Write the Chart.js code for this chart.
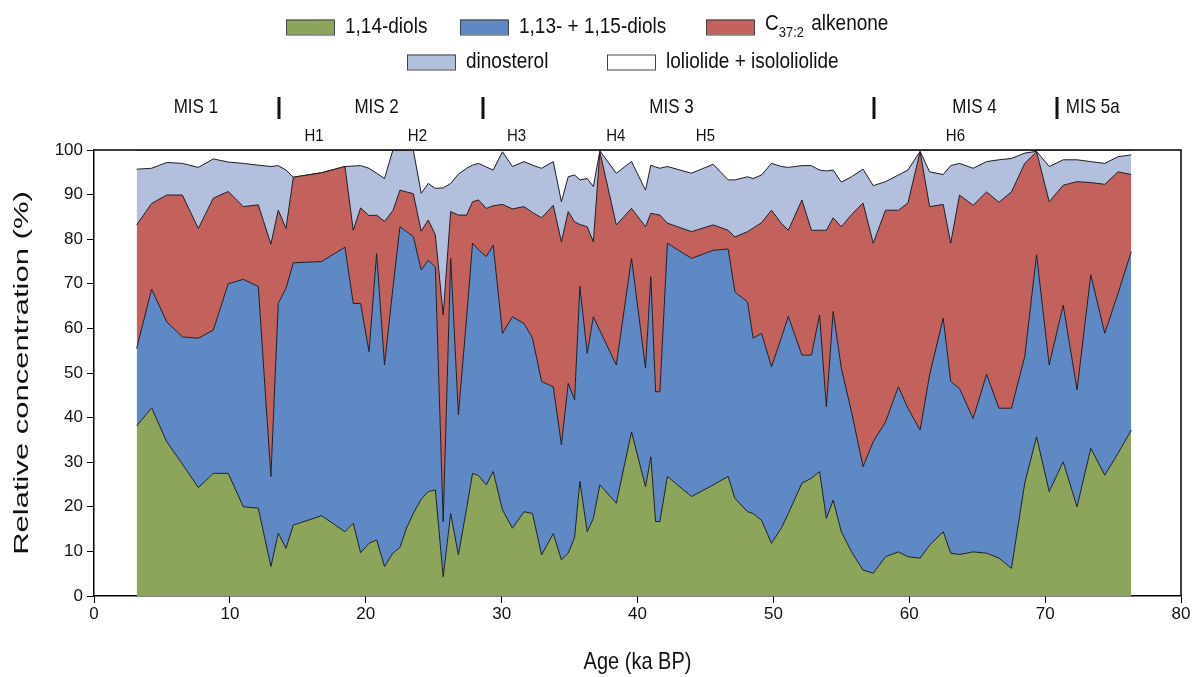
<!DOCTYPE html>
<html><head><meta charset="utf-8">
<script src="https://cdn.jsdelivr.net/npm/chart.js@4.4.1/dist/chart.umd.min.js"></script>
<style>html,body{margin:0;padding:0;background:#fff;}canvas{display:block;}</style>
</head><body>
<canvas id="c" width="1196" height="677"></canvas>
<script>
// Age (ka BP)
const ages = [3.14,4.24,5.35,6.5,7.68,8.78,9.88,10.99,12.09,13.02,13.56,14.13,14.67,16.75,18.47,19.08,19.62,20.24,20.8,21.38,22.0,22.52,23.0,23.5,24.08,24.6,25.12,25.7,26.25,26.82,27.42,27.86,28.3,28.87,29.38,30.06,30.8,31.65,32.27,32.94,33.8,34.4,34.9,35.37,35.76,36.3,36.75,37.23,38.44,39.56,40.59,40.98,41.33,41.65,42.2,43.97,45.57,46.67,47.17,48.1,48.51,49.13,49.86,50.6,51.1,52.1,52.8,53.4,53.9,54.4,55.0,55.75,56.6,57.35,58.25,59.2,59.9,60.8,61.5,62.5,63.05,63.7,64.7,65.69,66.6,67.52,68.5,69.37,70.3,71.33,72.35,73.36,74.39,75.37,76.34];
// Relative concentration (%) of each compound group
const diols114 = [38.1,42.2,34.6,29.6,24.3,27.5,27.5,20.0,19.7,6.6,14.1,10.7,15.9,18.0,14.4,16.3,9.7,11.8,12.6,6.6,9.6,10.9,15.2,18.5,21.7,23.4,23.8,4.3,18.5,9.2,19.6,27.5,27.0,24.9,27.9,19.3,15.2,18.9,18.5,9.2,14.0,8.1,9.6,13.1,25.7,14.4,17.4,24.9,20.8,36.8,24.5,31.2,16.7,16.7,26.8,22.3,24.9,26.8,21.9,18.9,18.5,17.0,11.8,15.3,18.5,25.3,26.4,27.9,17.4,21.5,14.4,9.9,5.8,5.1,8.8,9.9,8.8,8.5,11.4,14.4,9.6,9.3,9.9,9.6,8.5,6.2,25.3,35.7,23.4,30.1,20.0,33.1,27.1,32.0,37.2];
const diols113_115 = [17.4,26.6,26.9,28.5,33.5,32.1,42.5,51.0,49.7,20.2,51.5,58.3,58.8,57.0,63.8,49.3,55.9,43.0,64.2,45.2,59.5,71.9,66.5,62.1,51.4,51.9,50.0,12.4,57.2,31.4,42.7,51.6,50.6,51.2,50.8,39.6,47.4,42.2,39.3,38.9,32.9,25.8,38.1,30.9,43.7,40.0,45.2,34.6,31.0,38.9,26.6,40.4,29.1,29.1,52.3,53.4,52.6,51.0,46.3,47.0,39.3,41.9,39.6,42.7,44.2,28.7,27.6,35.1,25.0,42.3,36.7,31.4,23.2,29.5,30.2,37.0,33.3,28.7,38.2,47.9,38.5,37.2,29.9,40.1,33.6,35.9,28.4,40.8,28.4,35.1,26.2,38.9,31.8,35.9,40.0];
const alkenone = [27.7,19.2,28.4,31.8,24.6,29.6,20.7,16.3,18.3,52.1,20.9,13.4,19.2,19.9,18.1,16.4,21.4,30.5,8.6,32.2,17.3,8.2,8.9,9.6,8.7,9.0,7.2,46.3,10.5,44.8,23.1,9.3,11.2,10.8,8.8,28.9,24.2,26.2,28.2,36.7,40.7,45.5,38.5,39.9,13.9,28.4,16.8,40.1,31.4,11.2,31.7,14.2,39.8,39.6,4.5,6.0,5.7,4.2,12.3,15.8,24.7,24.8,35.1,25.5,19.3,34.8,28.0,19.0,39.6,21.0,31.7,44.2,59.1,44.5,47.5,39.6,46.0,62.4,37.7,25.5,31.0,43.4,47.8,40.9,46.2,48.5,43.3,23.1,36.6,26.9,46.7,20.7,33.4,27.2,17.3];
const dinosterol = [12.5,7.9,7.3,7.1,13.7,8.8,6.6,9.7,8.9,17.4,10.0,13.1,0,0,0,14.4,9.5,10.6,9.4,9.6,13.6,9.0,9.4,9.8,8.5,8.2,10.4,28.5,6.3,9.2,10.5,8.2,8.2,9.3,8.0,11.8,9.5,10.1,10.6,11.1,9.8,9.0,7.8,10.5,10.0,10.8,12.4,0.2,11.6,10.5,8.2,10.8,10.6,10.5,12.7,13.1,13.6,11.3,12.8,12.3,11.1,10.7,10.5,12.8,14.1,7.7,14.5,13.5,13.3,10.7,10.0,8.5,7.6,12.9,6.4,7.9,7.4,0.1,7.8,6.7,17.4,7.1,8.3,6.8,9.5,7.5,2.3,0.1,7.9,5.7,4.9,4.7,4.7,3.4,4.4];
const loliolide = [4.3,4.1,2.8,3.0,3.9,2.0,2.7,3.0,3.4,3.7,3.5,4.5,6.1,5.1,3.7,3.6,3.5,4.1,5.2,6.4,0,0,0,0,9.7,7.5,8.6,8.5,7.5,5.4,4.1,3.4,3.0,3.8,4.5,0.4,3.7,2.6,3.4,4.1,2.6,11.6,6.0,5.6,6.7,6.4,8.2,0.2,5.2,2.6,9.0,3.4,3.8,4.1,3.7,5.2,3.2,6.7,6.7,6.0,6.4,5.6,3.0,3.7,3.9,3.5,3.5,4.5,4.7,4.5,7.2,6.0,4.3,8.0,7.1,5.6,4.5,0.3,4.9,5.5,3.5,3.0,4.1,2.6,2.2,1.9,0.7,0.3,3.7,2.2,2.2,2.6,3.0,1.5,1.1];

const seriesLabels = ['1,14-diols','1,13- + 1,15-diols','C37:2 alkenone','dinosterol','loliolide + isololiolide'];
const seriesColors = ['#8ca55b','#5f89c4','#c3615c','#b2c0dd','#ffffff'];
const xTicks = [0,10,20,30,40,50,60,70,80];
const yTicks = [0,10,20,30,40,50,60,70,80,90,100];
const xTitle = 'Age (ka BP)';
const yTitle = 'Relative concentration (%)';

// Stage / event annotations (ka BP)
const misBounds = [13.6,28.6,57.4,70.9];
const misLabels = ['MIS 1','MIS 2','MIS 3','MIS 4','MIS 5a'];
const misCenters = [7.5,20.8,42.5,64.8,73.5];
const hLabels = ['H1','H2','H3','H4','H5','H6'];
const hCenters = [16.2,23.8,31.1,38.4,45.0,63.4];

const FONT = "'Liberation Sans', Arial, sans-serif";
const series = [diols114, diols113_115, alkenone, dinosterol, loliolide];

function stretchedText(ctx, text, x, y, rot, sx, sy) {
  ctx.save();
  ctx.translate(x, y);
  ctx.rotate(rot);
  ctx.scale(sx, sy);
  ctx.fillText(text, 0, 0);
  ctx.restore();
}

const decor = {
  id: 'decor',
  afterDraw(chart) {
    const {ctx, chartArea: a, scales: {x}} = chart;
    ctx.save();
    // frame top/right
    ctx.strokeStyle = '#000'; ctx.lineWidth = 1.5;
    ctx.beginPath();
    ctx.moveTo(a.left, a.top); ctx.lineTo(a.right, a.top); ctx.lineTo(a.right, a.bottom);
    ctx.stroke();
    ctx.fillStyle = '#111'; ctx.textBaseline = 'middle'; ctx.textAlign = 'center';
    // axis titles
    ctx.font = '20px ' + FONT;
    stretchedText(ctx, yTitle, 22, (a.top + a.bottom) / 2, -Math.PI / 2, 1.55, 1);
    stretchedText(ctx, xTitle, (a.left + a.right) / 2, 662, 0, 1, 1.2);
    // MIS labels
    ctx.font = '17px ' + FONT;
    misLabels.forEach((t, i) => stretchedText(ctx, t, x.getPixelForValue(misCenters[i]), 108, 0, 1, 1.15));
    ctx.lineWidth = 3; ctx.strokeStyle = '#111';
    misBounds.forEach(v => {
      const px = Math.round(x.getPixelForValue(v));
      ctx.beginPath(); ctx.moveTo(px, 97); ctx.lineTo(px, 119); ctx.stroke();
    });
    ctx.font = '15px ' + FONT;
    hLabels.forEach((t, i) => stretchedText(ctx, t, x.getPixelForValue(hCenters[i]), 136, 0, 1, 1.15));
    // legend
    const boxW = 48, boxH = 15;
    const items = [
      {i:0, x:286, y:27}, {i:1, x:460, y:27}, {i:2, x:706, y:27},
      {i:3, x:407, y:62}, {i:4, x:607, y:62}
    ];
    ctx.textAlign = 'left';
    items.forEach(it => {
      ctx.fillStyle = seriesColors[it.i];
      ctx.fillRect(it.x, it.y - boxH/2, boxW, boxH);
      ctx.lineWidth = 1; ctx.strokeStyle = '#444';
      ctx.strokeRect(it.x + 0.5, it.y - boxH/2 + 0.5, boxW, boxH);
      ctx.fillStyle = '#111';
      const tx = it.x + boxW + 11;
      const label = seriesLabels[it.i];
      if (label.startsWith('C37:2')) {
        ctx.font = '19px ' + FONT;
        stretchedText(ctx, 'C', tx, it.y - 3, 0, 1, 1.15);
        let w = ctx.measureText('C').width;
        ctx.font = '13px ' + FONT;
        stretchedText(ctx, '37:2', tx + w, it.y + 6, 0, 1, 1.15);
        w += ctx.measureText('37:2').width + 2;
        ctx.font = '19px ' + FONT;
        stretchedText(ctx, label.slice(5), tx + w, it.y - 3, 0, 1, 1.15);
      } else {
        ctx.font = '19px ' + FONT;
        stretchedText(ctx, label, tx, it.y, 0, 1, 1.15);
      }
    });
    ctx.restore();
  }
};

new Chart(document.getElementById('c'), {
  type: 'line',
  data: {
    datasets: series.map((s, i) => ({
      label: seriesLabels[i],
      data: ages.map((a, j) => ({x: a, y: s[j]})),
      fill: i === 0 ? 'origin' : '-1',
      backgroundColor: seriesColors[i],
      borderColor: '#1c1c24',
      borderWidth: 1,
      pointRadius: 0,
      tension: 0
    }))
  },
  options: {
    responsive: false, animation: false, devicePixelRatio: 1,
    layout: {padding: {left: 0, right: 15, top: 150, bottom: 0}},
    plugins: {legend: {display: false}, tooltip: {enabled: false}},
    scales: {
      x: {
        type: 'linear', min: 0, max: 80,
        afterBuildTicks: s => { s.ticks = xTicks.map(v => ({value: v})); },
        afterFit: s => { s.height = 81; },
        grid: {display: true, drawOnChartArea: false, drawTicks: true, tickLength: 7, color: '#000'},
        border: {display: true, color: '#000', width: 1.5},
        ticks: {color: '#111', font: {size: 17, family: FONT}, padding: 1, maxRotation: 0},
        title: {display: false, text: xTitle}
      },
      y: {
        stacked: true, min: 0, max: 100,
        afterBuildTicks: s => { s.ticks = yTicks.map(v => ({value: v})); },
        afterFit: s => { s.width = 94; },
        grid: {display: true, drawOnChartArea: false, drawTicks: true, tickLength: 7, color: '#000'},
        border: {display: true, color: '#000', width: 1.5},
        ticks: {color: '#111', font: {size: 17, family: FONT}, padding: 4},
        title: {display: false, text: yTitle}
      }
    }
  },
  plugins: [decor]
});
</script>
</body></html>
